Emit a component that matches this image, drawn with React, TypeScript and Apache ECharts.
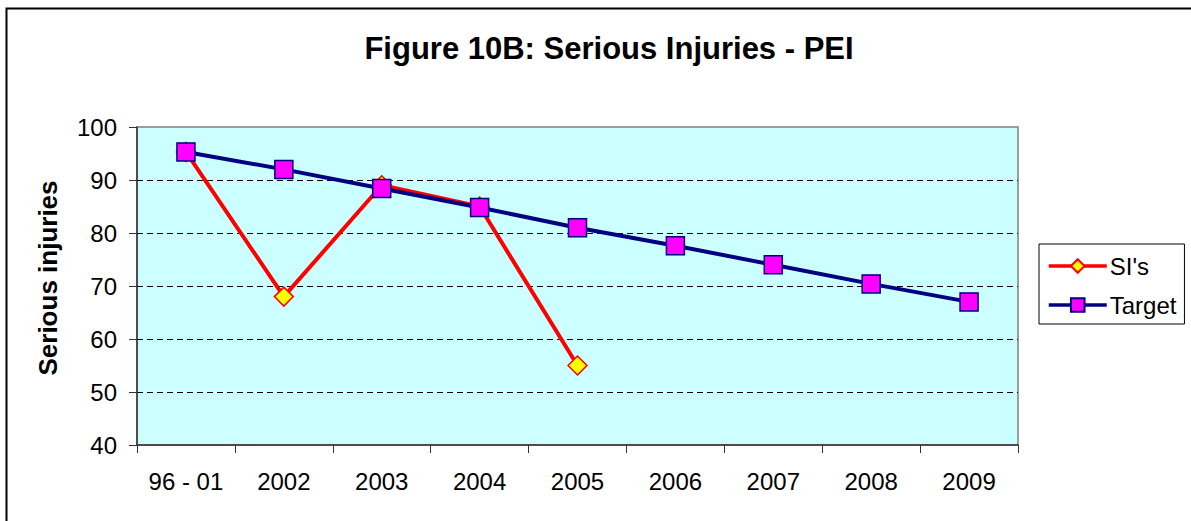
import React, { useEffect, useRef } from "react";
import * as echarts from "echarts";

const categories = ["96 - 01", "2002", "2003", "2004", "2005", "2006", "2007", "2008", "2009"];
const siValues: (number | null)[] = [95.3, 68, 89, 85, 55, null, null, null, null];
const targetValues = [95.3, 92.0, 88.4, 84.8, 81.0, 77.6, 74.0, 70.4, 67.0];
const yTicks = { min: 40, max: 100, interval: 10 };
const titleText = "Figure 10B: Serious Injuries - PEI";
const yAxisName = "Serious injuries";
const seriesNames = ["SI's", "Target"];

export default function App() {
  const ref = useRef<HTMLDivElement>(null);
  useEffect(() => {
    const chart = echarts.init(ref.current!, null, { renderer: "svg" });
    const font = "'Liberation Sans', Arial, sans-serif";
    chart.setOption({
      animation: false,
      backgroundColor: "#ffffff",
      textStyle: { fontFamily: font },
      title: {
        text: titleText,
        left: 604,
        textAlign: "center",
        top: 28,
        textStyle: { fontSize: 31, fontWeight: "bold", color: "#000", fontFamily: font },
      },
      graphic: [
        {
          type: "rect",
          shape: { x: 6.5, y: 8.5, width: 1300, height: 700 },
          style: { fill: "none", stroke: "#000", lineWidth: 2 },
          silent: true,
          z: -1,
        },
      ],
      legend: {
        orient: "vertical",
        left: 1039,
        top: 244,
        padding: [10, 8, 7, 8],
        itemGap: 15,
        itemWidth: 58,
        itemHeight: 17,
        borderColor: "#000",
        borderWidth: 1,
        backgroundColor: "#fff",
        lineStyle: { width: 3.5 },
        textStyle: { fontSize: 24, color: "#000", fontFamily: font, padding: [0, 0, 0, -2] },
        data: seriesNames,
      },
      grid: {
        left: 137,
        top: 127,
        width: 881,
        height: 318,
        show: true,
        backgroundColor: "#CCFFFF",
        borderColor: "#808080",
        borderWidth: 1.5,
      },
      xAxis: {
        type: "category",
        data: categories,
        boundaryGap: true,
        axisLine: { lineStyle: { color: "#333", width: 1.5 } },
        axisTick: { show: true, inside: false, length: 8, alignWithLabel: false, lineStyle: { color: "#333" } },
        axisLabel: { fontSize: 24, color: "#000", margin: 24, fontFamily: font },
        splitLine: { show: false },
      },
      yAxis: {
        type: "value",
        min: yTicks.min,
        max: yTicks.max,
        interval: yTicks.interval,
        name: yAxisName,
        nameLocation: "middle",
        nameGap: 76,
        nameTextStyle: {
          fontSize: 26,
          fontWeight: "bold",
          color: "#000",
          fontFamily: font,
          padding: [0, 0, 0, 16],
        },
        axisLine: { show: true, lineStyle: { color: "#333", width: 1.5 } },
        axisTick: { show: true, inside: false, length: 8, lineStyle: { color: "#333" } },
        axisLabel: { fontSize: 24, color: "#000", margin: 20, fontFamily: font },
        splitLine: {
          show: true,
          lineStyle: {
            color: ["transparent", "#000", "#000", "#000", "#000", "#000", "transparent"],
            type: [6, 4],
            width: 1,
          },
        },
      },
      series: [
        {
          name: seriesNames[0],
          type: "line",
          data: siValues,
          connectNulls: false,
          symbol: "diamond",
          symbolSize: 19,
          lineStyle: { color: "#FF0000", width: 4 },
          itemStyle: { color: "#FFFF00", borderColor: "#FF0000", borderWidth: 1.5 },
          z: 2,
        },
        {
          name: seriesNames[1],
          type: "line",
          data: targetValues,
          symbol: "rect",
          symbolSize: 18,
          lineStyle: { color: "#000080", width: 4 },
          itemStyle: { color: "#FF00FF", borderColor: "#000080", borderWidth: 1.5 },
          z: 3,
        },
      ],
    });
    return () => chart.dispose();
  }, []);
  return (
    <div
      ref={ref}
      style={{ position: "fixed", left: 0, top: 0, width: 1191, height: 521 }}
    />
  );
}
